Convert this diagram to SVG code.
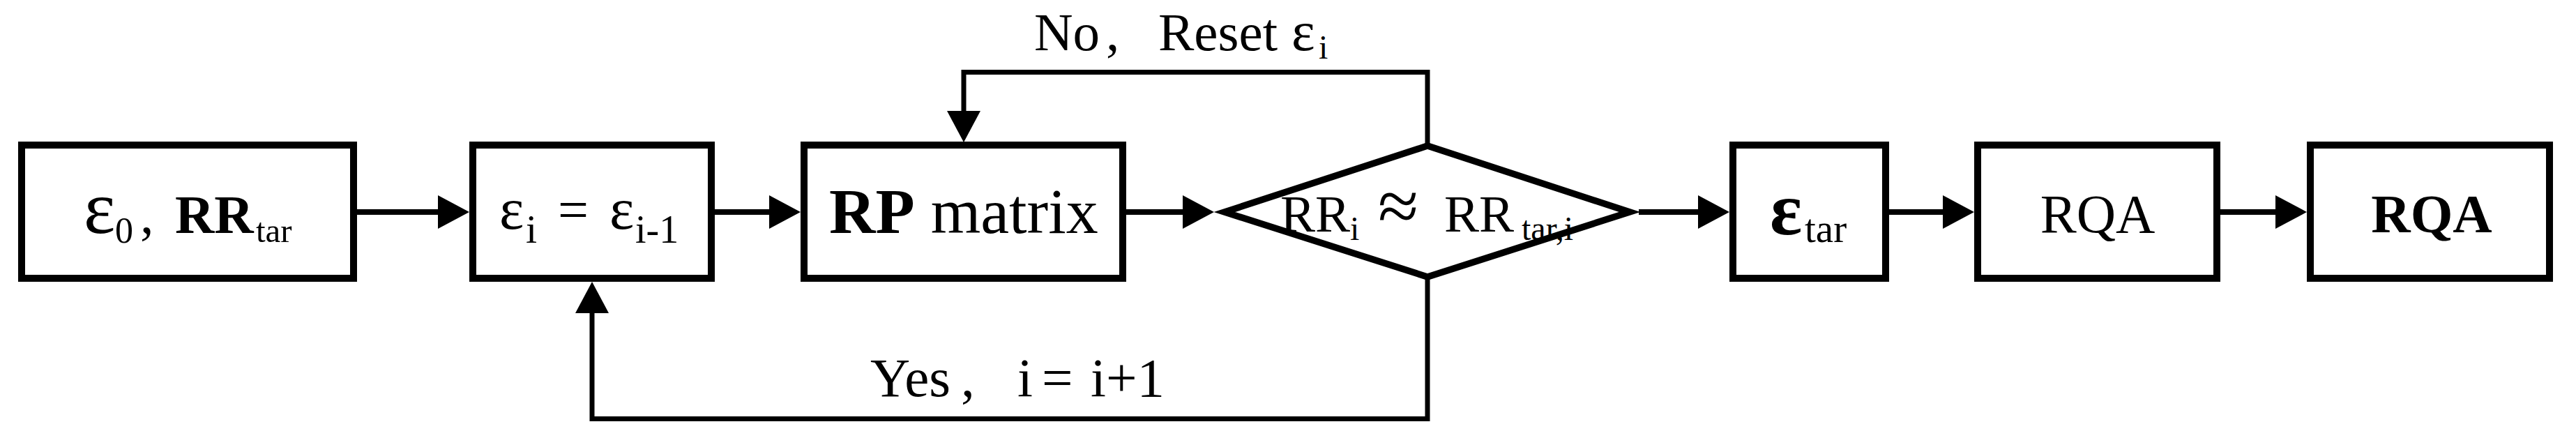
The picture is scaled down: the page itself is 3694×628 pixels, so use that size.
<svg xmlns="http://www.w3.org/2000/svg" width="3694" height="628" viewBox="0 0 3694 628">
<style>
.box{fill:#fff;stroke:#000;stroke-width:10}
.dia{fill:#fff;stroke:#000;stroke-width:9.5;stroke-linejoin:miter}
.conn{fill:none;stroke:#000;stroke-width:8}
.loop{fill:none;stroke:#000;stroke-width:7;stroke-linejoin:miter}
text{font-family:"Liberation Serif","Times New Roman",serif;fill:#000}
.b{font-weight:bold}
</style>
<defs>
<marker id="ah" markerUnits="userSpaceOnUse" markerWidth="45" markerHeight="48" refX="0" refY="24" orient="auto" overflow="visible">
<path d="M0,0 L45,24 L0,48 z" fill="#000"/>
</marker>
</defs>
<rect width="3694" height="628" fill="#fff"/>
<g id="connectors">
<line class="conn" x1="512" y1="304" x2="628" y2="304" marker-end="url(#ah)"/>
<line class="conn" x1="1025" y1="304" x2="1103" y2="304" marker-end="url(#ah)"/>
<line class="conn" x1="1615" y1="304" x2="1696" y2="304" marker-end="url(#ah)"/>
<line class="conn" x1="2350" y1="304" x2="2435" y2="304" marker-end="url(#ah)"/>
<line class="conn" x1="2709" y1="304" x2="2786" y2="304" marker-end="url(#ah)"/>
<line class="conn" x1="3184" y1="304" x2="3263" y2="304" marker-end="url(#ah)"/>
<path class="loop" d="M2047,206 V103.5 H1382 V159" marker-end="url(#ah)"/>
<path class="loop" d="M2047,400 V600.5 H849 V449" marker-end="url(#ah)"/>
<text x="1483" y="72" font-size="77">No<tspan x="1586">,</tspan><tspan x="1661">Reset</tspan><tspan x="1852" font-size="80">ε</tspan><tspan x="1891" y="84" font-size="48">i</tspan></text>
<text x="1248" y="568" font-size="79">Yes<tspan x="1378">,</tspan><tspan x="1459">i</tspan><tspan x="1494">=</tspan><tspan x="1564">i+1</tspan></text>
</g>
<g id="n1">
<rect class="box" x="31" y="208" width="476" height="191"/>
<text y="334" font-size="78"><tspan x="120" font-size="108">ε</tspan><tspan x="165" y="348" font-size="52">0</tspan><tspan x="201" y="334">,</tspan><tspan x="251" class="b">RR</tspan><tspan x="367" y="347" font-size="49">tar</tspan></text>
</g>
<g id="n2">
<rect class="box" x="678" y="208" width="342" height="191"/>
<text y="328" font-size="78"><tspan x="716" font-size="84">ε</tspan><tspan x="754" y="348" font-size="58">i</tspan><tspan x="800" y="327">=</tspan><tspan x="874" y="328" font-size="84">ε</tspan><tspan x="911" y="348" font-size="56">i-1</tspan></text>
</g>
<g id="n3">
<rect class="box" x="1153" y="208" width="457" height="191"/>
<text x="1189" y="334" font-size="92"><tspan class="b">RP</tspan> matrix</text>
</g>
<g id="n4">
<polygon class="dia" points="1756,304 2047,209 2337,304 2047,397"/>
<text y="332" font-size="75"><tspan x="1836">RR</tspan><tspan x="1936" y="344" font-size="48">i</tspan><tspan x="1976" y="331" font-size="106">≈</tspan><tspan x="2071" y="332">RR</tspan><tspan x="2182" y="344" font-size="48">tar,i</tspan></text>
</g>
<g id="n5">
<rect class="box" x="2485" y="208" width="219" height="191"/>
<text y="336" font-size="78"><tspan x="2538" class="b" font-size="108">ε</tspan><tspan x="2588" y="347" font-size="57">tar</tspan></text>
</g>
<g id="n6">
<rect class="box" x="2836" y="208" width="343" height="191"/>
<text x="3008" y="333" font-size="78" text-anchor="middle">RQA</text>
</g>
<g id="n7">
<rect class="box" x="3313" y="208" width="343" height="191"/>
<text x="3487" y="333" font-size="78" text-anchor="middle" class="b">RQA</text>
</g>
</svg>
